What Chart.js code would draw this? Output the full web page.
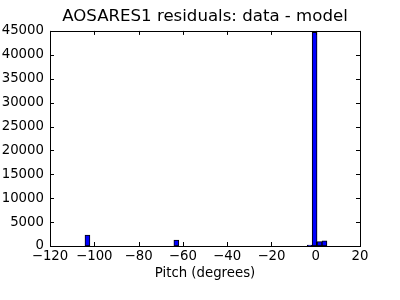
<!DOCTYPE html>
<html>
<head>
<meta charset="utf-8">
<script src="https://cdn.jsdelivr.net/npm/chart.js@4/dist/chart.umd.min.js"></script>
<style>
  html, body { margin: 0; padding: 0; background: #fff; }
</style>
</head>
<body>
<canvas id="myChart" width="400" height="300"></canvas>
<script>
// histogram bins (degrees), 49 bins of equal width
const binStart = -104.2;
const binWidth = 2.23;
const counts = [
  2300, 0, 0, 0, 0, 0, 0, 0, 0, 0,
  0, 0, 0, 0, 0, 0, 0, 0, 1250, 0,
  0, 0, 0, 0, 0, 0, 0, 0, 0, 0,
  0, 0, 0, 0, 0, 0, 0, 0, 0, 0,
  0, 0, 0, 0, 0, 200, 44700, 900, 1100
];
const binCenters = counts.map((c, i) => binStart + binWidth * (i + 0.5));
const xTicks = [-120, -100, -80, -60, -40, -20, 0, 20];
const yTicks = [0, 5000, 10000, 15000, 20000, 25000, 30000, 35000, 40000, 45000];

const font = { family: 'DejaVu Sans', size: 13.3 };

// matplotlib classic frame with inward ticks on all sides
const framePlugin = {
    id: 'frame',
    afterDraw(chart) {
        const ctx = chart.ctx;
        const a = chart.chartArea;
        const xs = chart.scales.x, ys = chart.scales.y;
        ctx.save();
        ctx.strokeStyle = '#000';
        ctx.lineWidth = 1;
        ctx.strokeRect(Math.round(a.left) + 0.5, Math.round(a.top) + 0.5,
            Math.round(a.right - a.left), Math.round(a.bottom - a.top));
        ctx.beginPath();
        xTicks.forEach(v => {
            const px = Math.round(xs.getPixelForValue(v)) + 0.5;
            ctx.moveTo(px, a.bottom); ctx.lineTo(px, a.bottom - 4);
            ctx.moveTo(px, a.top); ctx.lineTo(px, a.top + 4);
        });
        yTicks.forEach(v => {
            const py = Math.round(ys.getPixelForValue(v)) + 0.5;
            ctx.moveTo(a.left, py); ctx.lineTo(a.left + 4, py);
            ctx.moveTo(a.right, py); ctx.lineTo(a.right - 4, py);
        });
        ctx.stroke();
        ctx.restore();
    }
};

const ctx = document.getElementById('myChart').getContext('2d');
new Chart(ctx, {
    type: 'bar',
    data: {
        datasets: [{
            data: binCenters.map((x, i) => ({ x: x, y: counts[i] })),
            backgroundColor: '#0000ff',
            borderColor: '#000000',
            borderWidth: 1,
            borderSkipped: false,
            barPercentage: 1,
            categoryPercentage: 1
        }]
    },
    options: {
        responsive: false,
        animation: false,
        layout: { padding: { left: 0, right: -10, top: 0, bottom: 18 } },
        plugins: {
            legend: { display: false },
            tooltip: { enabled: false },
            title: {
                display: true,
                text: 'AOSARES1 residuals: data - model',
                color: '#000',
                font: { family: 'DejaVu Sans', size: 16.6, weight: 'normal' },
                padding: { top: 7, bottom: 4 }
            }
        },
        scales: {
            x: {
                type: 'linear',
                min: -120,
                max: 20,
                offset: false,
                afterBuildTicks: s => { s.ticks = xTicks.map(v => ({ value: v })); },
                afterFit: s => { s.height = 36; },
                grid: { display: false, drawTicks: false },
                border: { display: false },
                ticks: {
                    color: '#000',
                    font: font,
                    padding: 3,
                    maxRotation: 0,
                    autoSkip: false,
                    callback: v => v < 0 ? '\u2212' + Math.abs(v) : String(v)
                },
                title: {
                    display: true,
                    text: 'Pitch (degrees)',
                    color: '#000',
                    font: font,
                    padding: { top: 2, bottom: 0 }
                }
            },
            y: {
                min: 0,
                max: 45000,
                afterBuildTicks: s => { s.ticks = yTicks.map(v => ({ value: v })); },
                afterFit: s => { s.width = 50; },
                grid: { display: false, drawTicks: false },
                border: { display: false },
                ticks: {
                    color: '#000',
                    font: font,
                    padding: 6,
                    autoSkip: false,
                    callback: v => String(v)
                }
            },
            // empty right-hand axis that only reserves space
            yRight: {
                position: 'right',
                display: true,
                afterFit: s => { s.width = 50; },
                grid: { display: false, drawTicks: false },
                border: { display: false },
                ticks: { display: false }
            }
        }
    },
    plugins: [framePlugin]
});
</script>
</body>
</html>
